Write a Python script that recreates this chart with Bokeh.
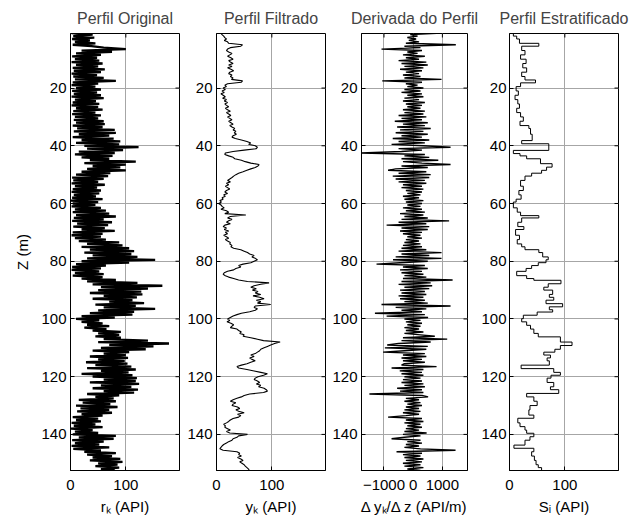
import math
from bokeh.plotting import figure
from bokeh.layouts import row
from bokeh.models import Range1d, FixedTicker
from bokeh.embed import file_html
from bokeh.resources import INLINE

# depth sampling of the logs (m)
Z_START = 1.0
Z_STEP = 0.5
Z_BOTTOM = 152.5
Z_TOP = 1.1

# original gamma-ray profile r_k (API), one value every 0.5 m from 1.0 m
RK = [
    2, 40, 5, 43, 3, 35, 8, 45, 4, 38,
    60, 100, 20, 75, 10, 55, 3, 48, 8, 52,
    2, 58, 10, 50, 4, 62, 6, 55, 2, 48,
    5, 60, 8, 82, 4, 50, 2, 45, 10, 55,
    3, 48, 6, 55, 2, 60, 8, 46, 4, 52,
    2, 50, 10, 58, 5, 45, 3, 55, 8, 50,
    6, 60, 10, 62, 4, 58, 12, 80, 6, 82,
    15, 70, 4, 78, 20, 90, 10, 88, 25, 123,
    30, 95, 15, 80, 8, 76, 20, 70, 35, 118,
    25, 100, 40, 90, 30, 100, 20, 72, 10, 68,
    3, 60, 5, 50, 2, 62, 8, 48, 4, 55,
    2, 52, 6, 46, 3, 58, 1, 50, 4, 45,
    2, 55, 8, 64, 4, 70, 10, 82, 6, 60,
    3, 75, 12, 68, 5, 62, 20, 80, 4, 58,
    2, 55, 8, 64, 15, 88, 30, 94, 20, 106,
    35, 115, 25, 110, 40, 121, 30, 153, 20, 106,
    10, 64, 3, 55, 2, 52, 8, 60, 4, 58,
    20, 82, 30, 121, 40, 166, 55, 140, 50, 128,
    35, 130, 60, 120, 40, 112, 70, 133, 45, 118,
    60, 153, 50, 115, 35, 112, 20, 80, 10, 52,
    20, 58, 30, 70, 25, 65, 40, 91, 50, 88,
    45, 91, 60, 140, 50, 178, 70, 150, 55, 136,
    40, 106, 60, 100, 35, 104, 50, 98, 28, 103,
    45, 110, 30, 118, 55, 105, 20, 112, 40, 120,
    60, 118, 35, 124, 55, 110, 40, 122, 60, 115,
    30, 88, 45, 78, 15, 82, 22, 72, 10, 85,
    18, 70, 12, 75, 20, 58, 4, 50, 10, 55,
    2, 45, 6, 58, 1, 40, 8, 50, 4, 82,
    15, 78, 3, 60, 8, 52, 2, 70, 5, 55,
    25, 82, 30, 75, 40, 90, 35, 94, 50, 85,
    45, 88, 55, 80,
]

# filtered profile y_k (API)
YK = [
    8, 10, 13, 15, 18, 14, 20, 22, 47, 44,
    25, 20, 18, 22, 28, 24, 20, 26, 30, 22,
    25, 30, 22, 28, 20, 26, 31, 24, 22, 28,
    25, 30, 27, 47, 45, 20, 15, 18, 12, 16,
    10, 14, 8, 12, 16, 11, 18, 14, 20, 15,
    18, 22, 16, 20, 25, 18, 22, 26, 20, 24,
    28, 22, 26, 30, 24, 28, 33, 30, 35, 32,
    36, 30, 28, 34, 45, 55, 62, 58, 70, 74,
    72, 50, 30, 16, 15, 22, 30, 33, 45, 52,
    62, 77, 75, 70, 62, 55, 48, 40, 35, 31,
    28, 24, 20, 25, 18, 22, 16, 20, 24, 18,
    15, 20, 13, 16, 10, 12, 6, 9, 4, 8,
    10, 14, 8, 18, 22, 15, 53, 25, 20, 28,
    22, 18, 25, 15, 12, 18, 14, 22, 16, 20,
    13, 18, 22, 16, 20, 25, 24, 28, 26, 31,
    44, 50, 56, 60, 68, 64, 70, 74, 68, 62,
    48, 40, 44, 35, 31, 20, 14, 12, 16, 22,
    31, 40, 56, 95, 80, 68, 62, 72, 65, 75,
    70, 80, 66, 78, 86, 72, 80, 74, 98, 70,
    68, 74, 70, 60, 45, 37, 30, 25, 20, 24,
    19, 26, 31, 28, 25, 37, 40, 45, 42, 50,
    48, 62, 74, 85, 115, 105, 98, 92, 86, 80,
    78, 74, 70, 62, 68, 60, 64, 70, 62, 55,
    45, 37, 40, 55, 68, 80, 92, 85, 75, 70,
    68, 74, 78, 72, 80, 76, 86, 90, 92, 85,
    60, 50, 45, 37, 30, 25, 35, 30, 28, 38,
    42, 35, 40, 50, 38, 44, 40, 30, 25, 22,
    18, 13, 16, 15, 20, 25, 18, 24, 56, 40,
    37, 30, 28, 22, 18, 13, 10, 8, 6, 12,
    37, 42, 40, 45, 38, 44, 48, 42, 46, 50,
    52, 55, 58, 59,
]

# derivative of the filtered profile (API/m)
DYDZ = [
    800, -100, 150, -200, 100, -150, 200, -250, 1460, -300,
    250, -1085, 300, -200, 150, -350, 400, -250, 200, -500,
    450, -400, 500, -300, 350, -450, 300, -250, 200, -350,
    250, -300, 970, -1060, 300, -250, 150, -200, 350, -300,
    250, -400, 300, -200, 350, -300, 200, -350, 400, -250,
    300, -200, 250, -350, 400, -300, 350, -500, 450, -400,
    300, -630, 500, -350, 400, -550, 600, -450, 350, -600,
    500, -400, 300, -700, 550, -500, 400, -740, 350, 1280,
    -500, 300, -400, -1850, 400, -300, 550, -400, 860, -350,
    300, 1280, -400, 500, -600, -860, 450, -500, 600, -700,
    550, -600, 400, -500, 450, -350, 300, -400, 350, -250,
    300, -200, 250, -350, 200, -300, 350, -250, 300, -200,
    250, -350, 300, -250, 400, -450, 350, -300, 500, -400,
    1230, -500, 450, -910, 550, -400, 500, -450, 300, -350,
    250, -200, 300, -250, 200, -300, 250, -350, 300, -400,
    450, -500, 970, -400, 550, -600, 970, -690, 500, -450,
    -1255, 400, -350, 500, -450, 300, -400, 350, -300, 450,
    -350, 1350, -400, 600, -500, 650, -300, 550, -450, 400,
    -400, 450, -500, 350, -450, 400, -300, 500, -1085, 1280,
    -600, 450, -400, 300, -1310, 400, -910, 510, -300, 250,
    -250, 300, -200, 250, -300, 200, -250, 350, -300, 250,
    740, -350, 1165, -400, 600, -500, -890, 500, -970, 450,
    -300, -1030, 400, -350, 450, -400, 300, -350, 400, -300,
    -400, 800, -740, 350, -460, 300, -400, 350, -300, 250,
    -350, 300, -400, 350, -300, 400, -550, 300, -450, 350,
    -1500, 300, 510, -250, 200, -300, 250, -200, 300, -250,
    200, -300, 250, -350, 200, -250, -860, 300, -250, 350,
    -300, 250, -200, 300, -250, 200, -300, 460, -350, 250,
    -300, -740, 250, -200, 300, -250, 200, -300, 250, 1450,
    -570, 300, -350, 250, -300, 350, -250, 300, -350, 250,
    -300, 350, -200, 250,
]

# stratified profile S_i: layer tops (m) and layer values (API)
SI_TOP = [1.0, 2.0, 3.0, 4.5, 5.5, 7.0, 8.5, 10.0, 11.5, 13.0, 14.5, 16.0, 17.2, 18.2,
          19.5, 21.0, 22.5, 24.0, 25.5, 27.0, 28.5, 30.0, 31.5, 33.0, 34.0, 36.0, 38.2,
          39.3, 41.6, 42.7, 43.5, 44.5, 46.2, 47.4, 48.5, 49.5, 50.5, 52.0, 54.0, 55.5,
          57.0, 58.5, 59.5, 61.5, 63.0, 64.2, 65.0, 66.5, 68.0, 69.0, 71.0, 72.5, 74.0,
          75.0, 76.0, 77.0, 78.5, 79.5, 80.5, 81.5, 82.5, 83.5, 85.0, 86.0, 86.6, 87.8,
          89.0, 90.0, 91.5, 92.5, 93.5, 94.7, 95.8, 96.8, 97.6, 98.7, 99.9, 101.0, 102.2,
          103.5, 105.0, 106.2, 108.0, 109.2, 110.5, 111.5, 112.5, 113.5, 114.5, 116.0,
          117.2, 118.5, 119.5, 120.5, 122.0, 123.5, 124.5, 125.8, 127.0, 128.5, 130.0,
          131.5, 133.3, 134.4, 136.0, 137.3, 138.5, 139.6, 140.8, 142.0, 143.7, 144.8,
          146.0, 147.5, 149.0, 150.5, 151.5]
SI_VAL = [7, 13, 18, 53, 22, 28, 20, 30, 24, 31, 22, 28, 47, 20,
          12, 16, 10, 15, 18, 13, 20, 25, 19, 35, 38, 41, 22,
          71, 7, 19, 31, 56, 77, 67, 58, 40, 28, 20, 25, 17,
          21, 12, 7, 14, 20, 53, 22, 15, 26, 11, 18, 14, 22,
          28, 53, 60, 70, 66, 52, 40, 30, 13, 31, 44, 93, 70,
          62, 78, 72, 80, 66, 96, 72, 78, 50, 25, 22, 31, 38,
          44, 52, 92, 113, 92, 82, 62, 74, 68, 72,
          21, 80, 92, 75, 68, 80, 74, 89, 31, 44, 50, 37,
          35, 44, 15, 19, 28, 31, 44, 37, 28, 8, 44,
          40, 45, 48, 52, 58]

TITLES = ["Perfil Original", "Perfil Filtrado", "Derivada do Perfil", "Perfil Estratificado"]
XLABELS = ["r\u2096 (API)", "y\u2096 (API)", "\u0394 y\u2096/\u0394 z (API/m)", "S\u1d62 (API)"]
XTICKS_GR = [0, 100]
XTICKS_DER = [-1000, 0, 1000]
YTICKS = [20, 40, 60, 80, 100, 120, 140]
XR_GR = (0, 197)
XR_DER = (-1770, 1860)

FONT = "Liberation Sans"
GRID = "#a6a6a6"

z = [Z_START + Z_STEP * i for i in range(len(RK))]

# step path for the stratified profile
si_x, si_y = [], []
bottoms = SI_TOP[1:] + [Z_BOTTOM]
for top, bot, v in zip(SI_TOP, bottoms, SI_VAL):
    si_x += [v, v]
    si_y += [top, bot]


def make_fig(title, xr, xticks, xlabel, left, right, fw, ylabel=None, ystandoff=4):
    p = figure(frame_width=fw, frame_height=437,
               x_range=Range1d(*xr), y_range=Range1d(Z_BOTTOM, Z_TOP),
               output_backend="svg", toolbar_location=None, title=title,
               min_border_left=left, min_border_right=right, min_border_top=33,
               min_border_bottom=52)
    p.title.align = "center"
    p.title.text_font = FONT
    p.title.text_font_size = "16px"
    p.title.text_font_style = "normal"
    p.title.standoff = 14
    p.outline_line_color = "black"
    p.outline_line_width = 1
    p.background_fill_color = "white"
    p.border_fill_color = "white"

    for ax in (p.xaxis[0], p.yaxis[0]):
        ax.major_tick_in = 4
        ax.major_tick_out = 0
        ax.minor_tick_in = 0
        ax.minor_tick_out = 0
        ax.axis_line_color = "black"
        ax.major_tick_line_color = "black"
        ax.major_label_text_font = FONT
        ax.major_label_text_font_size = "15px"
        ax.major_label_text_color = "black"
        ax.axis_label_text_font = FONT
        ax.axis_label_text_font_size = "15px"
        ax.axis_label_text_font_style = "normal"
        ax.axis_label_text_color = "black"
    p.xaxis[0].ticker = FixedTicker(ticks=xticks)
    p.yaxis[0].ticker = FixedTicker(ticks=YTICKS)
    p.xaxis[0].axis_label = xlabel
    p.xaxis[0].major_label_standoff = 9
    p.xaxis[0].axis_label_standoff = 5
    p.yaxis[0].major_label_standoff = ystandoff
    if ylabel:
        p.yaxis[0].axis_label = ylabel
        p.yaxis[0].axis_label_standoff = 7

    p.xgrid.ticker = FixedTicker(ticks=xticks)
    p.ygrid.ticker = FixedTicker(ticks=YTICKS)
    p.xgrid.grid_line_color = GRID
    p.ygrid.grid_line_color = GRID
    p.xgrid.grid_line_width = 1
    p.ygrid.grid_line_width = 1

    # tick marks on the right and top edges of the box
    p.ray(x=[xr[1]] * len(YTICKS), y=YTICKS, length=4, length_units="screen",
          angle=math.pi, line_color="black", line_width=1)
    p.ray(x=xticks, y=[Z_TOP] * len(xticks), length=4, length_units="screen",
          angle=-math.pi / 2, line_color="black", line_width=1)
    return p


p1 = make_fig(TITLES[0], XR_GR, XTICKS_GR, XLABELS[0], 70, 4, 109, ylabel="Z (m)")
p1.line(RK, z, line_color="black", line_width=2.3)

p2 = make_fig(TITLES[1], XR_GR, XTICKS_GR, XLABELS[1], 33, 4, 109)
p2.line(YK, z, line_color="black", line_width=1.1)

p3 = make_fig(TITLES[2], XR_DER, XTICKS_DER, XLABELS[2], 32, 11, 106)
p3.line(DYDZ, z, line_color="black", line_width=1.4)

p4 = make_fig(TITLES[3], XR_GR, XTICKS_GR, XLABELS[3], 28, 14, 109, ystandoff=3)
p4.line(si_x, si_y, line_color="black", line_width=1)

layout = row(p1, p2, p3, p4)

open("out.html", "w").write(file_html(layout, INLINE))
